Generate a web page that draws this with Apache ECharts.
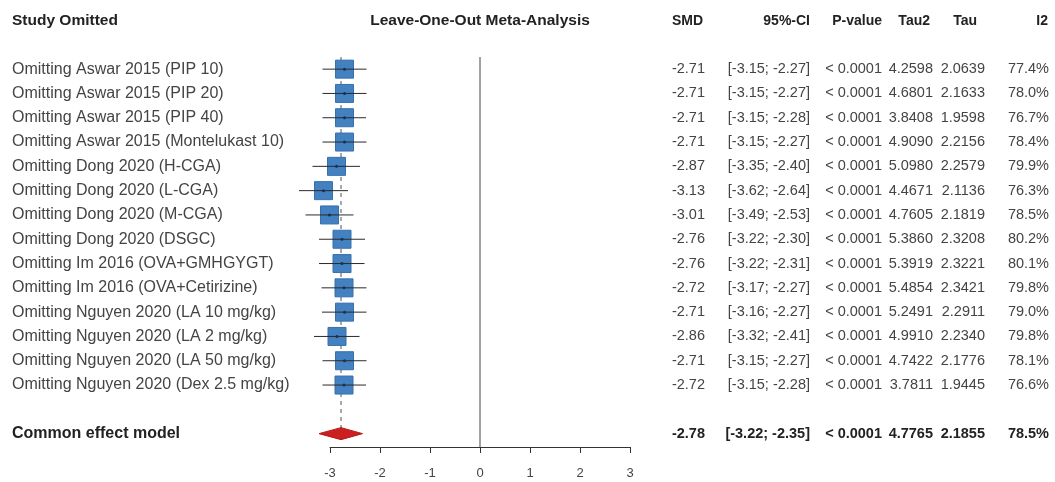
<!DOCTYPE html>
<html>
<head>
<meta charset="utf-8">
<script src="https://cdn.jsdelivr.net/npm/echarts@6/dist/echarts.min.js"></script>
<style>
html,body{margin:0;padding:0;background:#fff;}
#c{width:1055px;height:482px;}
</style>
</head>
<body>
<div id="c"></div>
<script>
const studies = [
  "Omitting Aswar 2015 (PIP 10)",
  "Omitting Aswar 2015 (PIP 20)",
  "Omitting Aswar 2015 (PIP 40)",
  "Omitting Aswar 2015 (Montelukast 10)",
  "Omitting Dong 2020 (H-CGA)",
  "Omitting Dong 2020 (L-CGA)",
  "Omitting Dong 2020 (M-CGA)",
  "Omitting Dong 2020 (DSGC)",
  "Omitting Im 2016 (OVA+GMHGYGT)",
  "Omitting Im 2016 (OVA+Cetirizine)",
  "Omitting Nguyen 2020 (LA 10 mg/kg)",
  "Omitting Nguyen 2020 (LA 2 mg/kg)",
  "Omitting Nguyen 2020 (LA 50 mg/kg)",
  "Omitting Nguyen 2020 (Dex 2.5 mg/kg)"
];
const smd   = [-2.71,-2.71,-2.71,-2.71,-2.87,-3.13,-3.01,-2.76,-2.76,-2.72,-2.71,-2.86,-2.71,-2.72];
const lower = [-3.15,-3.15,-3.15,-3.15,-3.35,-3.62,-3.49,-3.22,-3.22,-3.17,-3.16,-3.32,-3.15,-3.15];
const upper = [-2.27,-2.27,-2.28,-2.27,-2.40,-2.64,-2.53,-2.30,-2.31,-2.27,-2.27,-2.41,-2.27,-2.28];
const pvalues = ["< 0.0001","< 0.0001","< 0.0001","< 0.0001","< 0.0001","< 0.0001","< 0.0001","< 0.0001","< 0.0001","< 0.0001","< 0.0001","< 0.0001","< 0.0001","< 0.0001"];
const tau2  = ["4.2598","4.6801","3.8408","4.9090","5.0980","4.4671","4.7605","5.3860","5.3919","5.4854","5.2491","4.9910","4.7422","3.7811"];
const tau   = ["2.0639","2.1633","1.9598","2.2156","2.2579","2.1136","2.1819","2.3208","2.3221","2.3421","2.2911","2.2340","2.1776","1.9445"];
const i2    = ["77.4%","78.0%","76.7%","78.4%","79.9%","76.3%","78.5%","80.2%","80.1%","79.8%","79.0%","79.8%","78.1%","76.6%"];

const commonLabel = "Common effect model";
const commonSmd = -2.78, commonLower = -3.22, commonUpper = -2.35;
const commonP = "< 0.0001", commonTau2 = "4.7765", commonTau = "2.1855", commonI2 = "78.5%";

const headers = ["Study Omitted","Leave-One-Out Meta-Analysis","SMD","95%-CI","P-value","Tau2","Tau","I2"];
const xTicks = [-3,-2,-1,0,1,2,3];

const FONT = "'Liberation Sans', Arial, Helvetica, sans-serif";
const COMMON_ROW = 16;

const rows = studies.map((s, i) => [i + 1, smd[i], lower[i], upper[i], s,
  smd[i].toFixed(2), "[" + lower[i].toFixed(2) + "; " + upper[i].toFixed(2) + "]",
  pvalues[i], tau2[i], tau[i], i2[i], 0]);
const commonRow = [COMMON_ROW, commonSmd, commonLower, commonUpper, commonLabel,
  commonSmd.toFixed(2), "[" + commonLower.toFixed(2) + "; " + commonUpper.toFixed(2) + "]",
  commonP, commonTau2, commonTau, commonI2, 1];
const allRows = rows.concat([commonRow]);

const chart = echarts.init(document.getElementById('c'), null, {renderer: 'canvas'});

function txt(x, y, s, align, bold, size, color) {
  return {type: 'text', x: x, y: y, style: {
    text: s, x: 0, y: 0, textAlign: align, textVerticalAlign: 'middle',
    font: (bold ? 'bold ' : '') + size + 'px ' + FONT, fill: color}};
}

const colRight = [705, 810, 882, 933, 985, 1049];
const LEFT_SIZE = 16, RIGHT_SIZE = 14.5;

chart.setOption({
  animation: false,
  backgroundColor: '#fff',
  grid: {left: 330, width: 300, top: 57, height: 390},
  xAxis: {
    type: 'value', min: -3, max: 3, interval: 1,
    axisLine: {show: true, onZero: false, lineStyle: {color: '#333', width: 1}},
    axisTick: {show: true, length: 6, lineStyle: {color: '#333'}},
    axisLabel: {color: '#444', fontSize: 13, fontFamily: FONT, margin: 20,
      formatter: v => String(v)},
    splitLine: {show: false}
  },
  yAxis: {type: 'value', min: 0.5, max: 16.55, inverse: true, show: false},
  graphic: [
    txt(12, 21, headers[0], 'left', true, 15.5, '#222'),
    txt(480, 21, headers[1], 'center', true, 15.5, '#222'),
    txt(703, 21, headers[2], 'right', true, 14, '#222'),
    txt(810, 21, headers[3], 'right', true, 14, '#222'),
    txt(882, 21, headers[4], 'right', true, 14, '#222'),
    txt(930, 21, headers[5], 'right', true, 14, '#222'),
    txt(977, 21, headers[6], 'right', true, 14, '#222'),
    txt(1048, 21, headers[7], 'right', true, 14, '#222')
  ],
  series: [
    {
      type: 'custom', coordinateSystem: 'cartesian2d', silent: true, z: 1,
      data: [[0, 0.5, 16.55, 0], [commonSmd, 0.5, COMMON_ROW, 1]],
      encode: {x: 0, y: 1},
      renderItem: function (params, api) {
        const a = api.coord([api.value(0), api.value(1)]);
        const b = api.coord([api.value(0), api.value(2)]);
        const dashed = api.value(3) === 1;
        return {type: 'line', shape: {x1: a[0], y1: a[1], x2: b[0], y2: b[1]},
          style: {stroke: dashed ? '#555' : '#444', lineWidth: 1, lineDash: dashed ? [4, 4] : null}};
      }
    },
    {
      type: 'custom', coordinateSystem: 'cartesian2d', silent: true, z: 3,
      data: rows.map(r => [r[1], r[0], r[2], r[3]]),
      encode: {x: 0, y: 1},
      renderItem: function (params, api) {
        const c = api.coord([api.value(0), api.value(1)]);
        const lo = api.coord([api.value(2), api.value(1)]);
        const hi = api.coord([api.value(3), api.value(1)]);
        const s = 18;
        return {type: 'group', children: [
          {type: 'rect', shape: {x: c[0] - s / 2, y: c[1] - s / 2, width: s, height: s},
            style: {fill: '#4381c1', stroke: '#3670ad', lineWidth: 1}},
          {type: 'line', shape: {x1: lo[0], y1: c[1], x2: hi[0], y2: c[1]},
            style: {stroke: '#2a2a2a', lineWidth: 1}},
          {type: 'circle', shape: {cx: c[0], cy: c[1], r: 1.5}, style: {fill: '#1a2f55'}}
        ]};
      }
    },
    {
      type: 'custom', coordinateSystem: 'cartesian2d', silent: true, z: 3,
      data: [[commonSmd, COMMON_ROW, commonLower, commonUpper]],
      encode: {x: 0, y: 1},
      renderItem: function (params, api) {
        const c = api.coord([api.value(0), api.value(1)]);
        const lo = api.coord([api.value(2), api.value(1)]);
        const hi = api.coord([api.value(3), api.value(1)]);
        const h = 6;
        return {type: 'polygon', shape: {points: [[lo[0], c[1]], [c[0], c[1] - h], [hi[0], c[1]], [c[0], c[1] + h]]},
          style: {fill: '#cc1f1f', stroke: '#b51818', lineWidth: 1}};
      }
    },
    {
      type: 'custom', coordinateSystem: 'cartesian2d', silent: true, z: 4,
      data: allRows.map(r => [0, r[0]]),
      encode: {x: 0, y: 1},
      renderItem: function (params, api) {
        const y = api.coord([0, api.value(1)])[1];
        const d = allRows[params.dataIndex];
        const bold = d[11] === 1;
        const col = bold ? '#222' : '#444';
        const children = [txt(12, y, d[4], 'left', bold, LEFT_SIZE, col)];
        const vals = [d[5], d[6], d[7], d[8], d[9], d[10]];
        vals.forEach((v, k) => children.push(txt(colRight[k], y, v, 'right', bold, RIGHT_SIZE, col)));
        return {type: 'group', children: children};
      }
    }
  ]
});
</script>
</body>
</html>
